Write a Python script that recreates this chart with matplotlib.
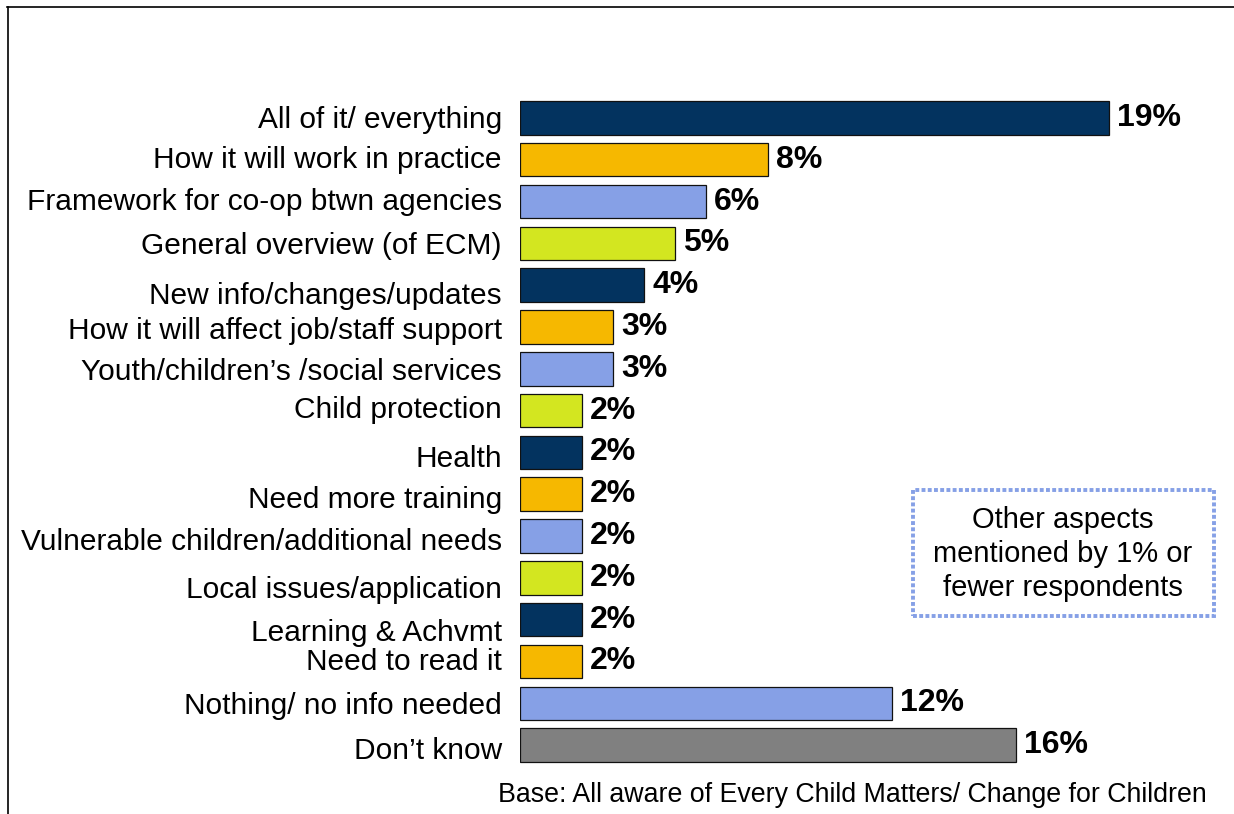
import matplotlib.pyplot as plt
from matplotlib.lines import Line2D
from matplotlib.patches import Rectangle
from matplotlib.transforms import ScaledTranslation

# data
categories = [
    "All of it/ everything",
    "How it will work in practice",
    "Framework for co-op btwn agencies",
    "General overview (of ECM)",
    "New info/changes/updates",
    "How it will affect job/staff support",
    "Youth/children\u2019s /social services",
    "Child protection",
    "Health",
    "Need more training",
    "Vulnerable children/additional needs",
    "Local issues/application",
    "Learning & Achvmt",
    "Need to read it",
    "Nothing/ no info needed",
    "Don\u2019t know",
]
values = [19, 8, 6, 5, 4, 3, 3, 2, 2, 2, 2, 2, 2, 2, 12, 16]
value_labels = ["19%", "8%", "6%", "5%", "4%", "3%", "3%", "2%", "2%", "2%",
                "2%", "2%", "2%", "2%", "12%", "16%"]

# the original's category labels sit a little off their bars (pixels, + = down)
label_nudge_px = [-1, -3, -3, 0, 8, 1, 0, -4, 4, 3, 3, 9, 10, -2, 0, 3]

navy = "#03335F"
gold = "#F6B800"
blue = "#86A0E6"
lime = "#D3E620"
grey = "#808080"
colors = [navy, gold, blue, lime, navy, gold, blue, lime, navy, gold, blue,
          lime, navy, gold, blue, grey]

plt.rcParams['font.family'] = ['Liberation Sans', 'DejaVu Sans']

W, H = 1234, 814
fig = plt.figure(figsize=(W / 100, H / 100), dpi=100)
ax = fig.add_axes([520 / W, 1 - 766 / H, 690 / W, (766 - 97) / H])

ypos = list(range(len(categories)))
ax.barh(ypos, values, height=0.8, color=colors, edgecolor="#111111", linewidth=0.9)
ax.set_xlim(0, 690 / 31)
ax.set_ylim(len(categories) - 0.5, -0.5)

for y, v, lab in zip(ypos, values, value_labels):
    ax.text(v + 0.26, y, lab, va="center", ha="left", fontsize=23, fontweight="bold")

ax.set_yticks(ypos)
ax.set_yticklabels(categories, fontsize=21.5)
ax.tick_params(axis="y", length=0, pad=13)
ax.set_xticks([])
for s in ax.spines.values():
    s.set_visible(False)

for lbl, dy in zip(ax.get_yticklabels(), label_nudge_px):
    lbl.set_transform(lbl.get_transform() + ScaledTranslation(0, -dy / 100, fig.dpi_scale_trans))

# note box with dotted border
box = Rectangle((913 / W, 1 - 616 / H), (1214 - 913) / W, (616 - 490) / H,
                transform=fig.transFigure, facecolor="white", edgecolor=blue,
                linewidth=2.8, linestyle=(0, (1, 0.6)))
box.set_capstyle("butt")
fig.add_artist(box)
fig.text(1063 / W, 1 - 554 / H, "Other aspects\nmentioned by 1% or\nfewer respondents",
         ha="center", va="center", fontsize=21, linespacing=1.25)

fig.text(1207 / W, 1 - 795 / H,
         "Base: All aware of Every Child Matters/ Change for Children",
         ha="right", va="center", fontsize=19.3)

# frame lines (top and left)
fig.add_artist(Line2D([7 / W, 1], [1 - 7 / H, 1 - 7 / H], color="black", lw=1.2))
fig.add_artist(Line2D([7.5 / W, 7.5 / W], [0, 1 - 7 / H], color="black", lw=1.2))

fig.savefig("out.png", dpi=100)
